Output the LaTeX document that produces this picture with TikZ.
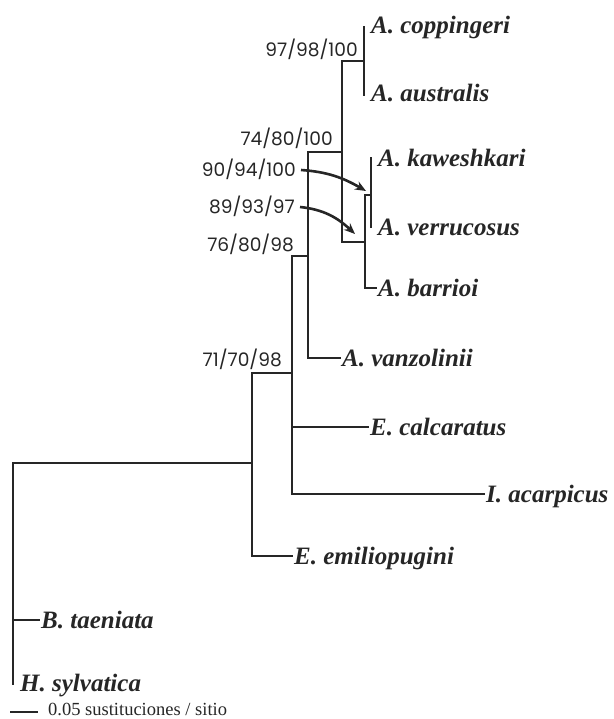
\documentclass[tikz,border=0pt]{standalone}
\usepackage{fontspec}
\setmainfont{Liberation Serif}
\newfontfamily\supfont{Poppins}
\usetikzlibrary{arrows.meta}
\definecolor{ink}{HTML}{262626}
\tikzset{
  branch/.style={draw=ink, line width=1.25pt, line cap=rect},
  taxon/.style={font=\fontsize{25}{30}\selectfont\bfseries\itshape, text=ink, inner xsep=2pt, inner ysep=0pt, text height=16.5pt, text depth=0pt, anchor=west},
  support/.style={font=\supfont\fontsize{18.6}{22}\selectfont, text=ink, inner sep=0pt, text height=13.5pt, text depth=0pt, anchor=east},
  pointer/.style={draw=ink, line width=2.6pt, -{Stealth[length=11pt,width=9pt]}},
  scalelabel/.style={font=\fontsize{18.5}{22}\selectfont, text=ink, inner sep=0pt, anchor=west}
}
\begin{document}
\begin{tikzpicture}[x=1pt,y=1pt]
\useasboundingbox (0,0) rectangle (613,-719);
% taxon labels
\node[taxon] (cop) at (369,-25) {A. coppingeri};
\node[taxon] (aus) at (369,-93) {A. australis};
\node[taxon] (kaw) at (376,-158) {A. kaweshkari};
\node[taxon] (ver) at (376,-227) {A. verrucosus};
\node[taxon] (bar) at (376,-288) {A. barrioi};
\node[taxon] (van) at (340,-358) {A. vanzolinii};
\node[taxon] (cal) at (368,-427) {E. calcaratus};
\node[taxon] (aca) at (484,-494) {I. acarpicus};
\node[taxon] (emi) at (292,-556) {E. emiliopugini};
\node[taxon] (tae) at (39,-620) {B. taeniata};
\node[taxon] (syl) at (18,-683) {H. sylvatica};
% tree coordinates
\coordinate (c1) at (364,-27);
\coordinate (c2) at (364,-95);
\coordinate (k1) at (371,-158);
\coordinate (k2) at (371,-227);
\coordinate (kv) at (365,-195);
\coordinate (na) at (342,-61);
\coordinate (nb) at (342,-242);
\coordinate (n74) at (308,-152);
\coordinate (n76) at (292,-256);
\coordinate (n71) at (252,-373);
\coordinate (root) at (13,-463);
\coordinate (rbot) at (13,-684);
% tree
\draw[branch] (c1) -- (c2);
\draw[branch] (na) -- (na -| c1);
\draw[branch] (k1) -- (k2);
\draw[branch] (kv) -- (kv -| k1);
\draw[branch] (kv) |- (bar.west);
\draw[branch] (nb -| kv) -- (nb);
\draw[branch] (na) -- (nb);
\draw[branch] (n74) -- (n74 -| na);
\draw[branch] (n74) |- (van.west);
\draw[branch] (n76) -- (n76 -| n74);
\draw[branch] (n76) |- (cal.west);
\draw[branch] (n76) |- (aca.west);
\draw[branch] (n71) -- (n71 -| n76);
\draw[branch] (n71) |- (emi.west);
\draw[branch] (root) -- (root -| n71);
\draw[branch] (root) -- (rbot);
\draw[branch] (root |- tae.west) -- (tae.west);
% support values
\node[support] (s97) at (358,-50) {97/98/100};
\node[support] (s74) at (333,-139) {74/80/100};
\node[support] (s90) at (296,-170) {90/94/100};
\node[support] (s89) at (295,-207) {89/93/97};
\node[support] (s76) at (294,-245) {76/80/98};
\node[support] (s71) at (282,-360) {71/70/98};
% arrows
\coordinate (t1) at (366,-191);
\coordinate (t2) at (355,-234);
\draw[pointer] ([xshift=5pt]s90.east) to[out=-4,in=150] (t1);
\draw[pointer] ([xshift=5pt]s89.east) to[out=-6,in=137] (t2);
% scale bar
\coordinate (sb1) at (10,-712);
\coordinate (sb2) at (38,-712);
\draw[branch, line cap=butt] (sb1) -- (sb2);
\node[scalelabel] (sbl) at (48,-709) {0.05 sustituciones / sitio};
\end{tikzpicture}
\end{document}
